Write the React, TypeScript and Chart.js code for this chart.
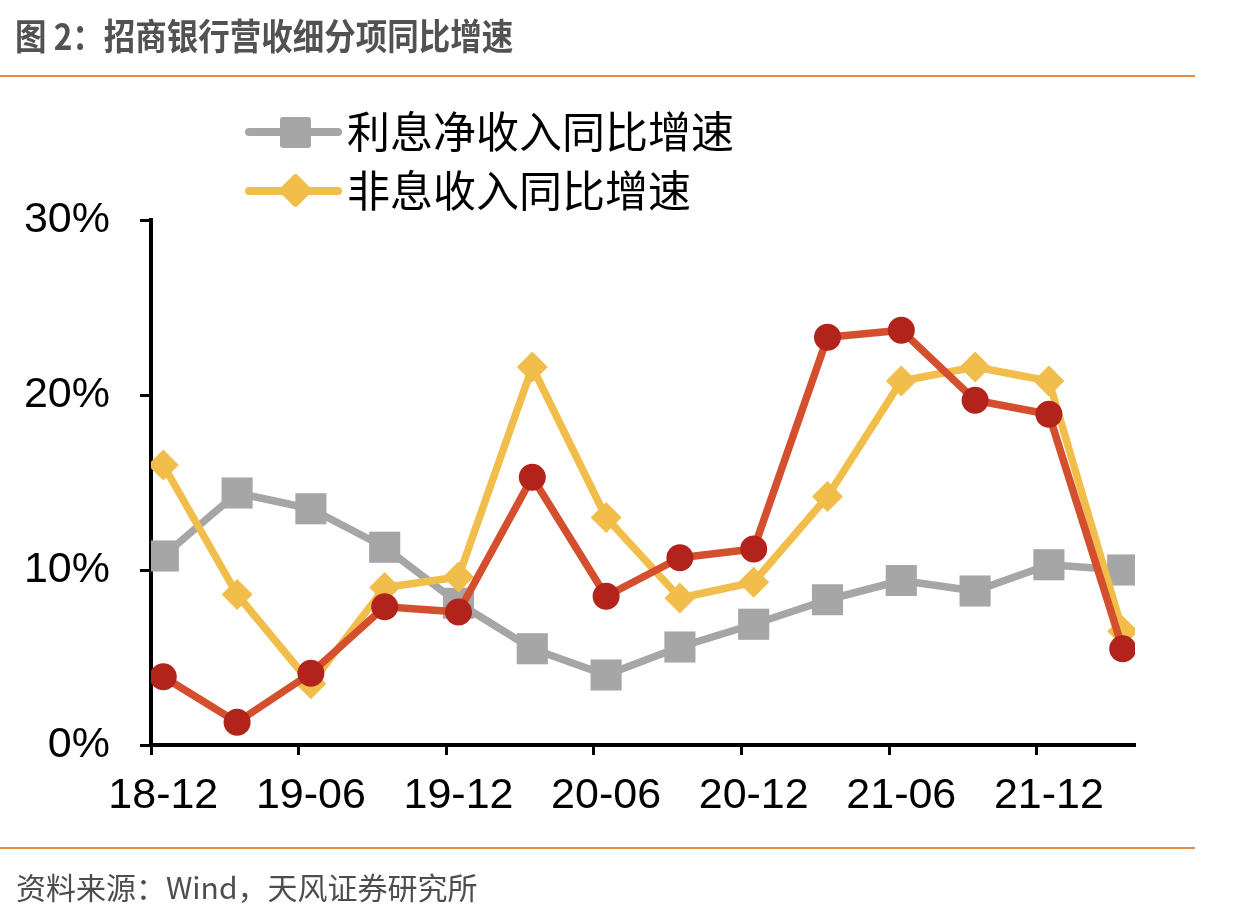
import React, { useEffect, useRef } from "react";
import { Chart, registerables } from "chart.js";

Chart.register(...registerables);

// ---- data ----
const PERIODS = [
  "18-12", "19-03", "19-06", "19-09", "19-12", "20-03", "20-06",
  "20-09", "20-12", "21-03", "21-06", "21-09", "21-12", "22-03",
];
const NII_GROWTH = [10.8, 14.4, 13.5, 11.3, 8.1, 5.5, 4.0, 5.6, 6.9, 8.3, 9.4, 8.8, 10.3, 10.0];
const NON_II_GROWTH = [16.0, 8.6, 3.5, 9.0, 9.6, 21.6, 13.0, 8.4, 9.3, 14.2, 20.8, 21.6, 20.8, 6.5];
const REVENUE_GROWTH = [3.9, 1.3, 4.1, 7.9, 7.6, 15.3, 8.5, 10.7, 11.2, 23.3, 23.7, 19.7, 18.9, 5.5];

const X_TICK_LABELS = ["18-12", "19-06", "19-12", "20-06", "20-12", "21-06", "21-12"];
const Y_MIN = 0;
const Y_MAX = 30;
const Y_STEP = 10;

const NAME_NII = "利息净收入同比增速";
const NAME_NON_II = "非息收入同比增速";
const NAME_REVENUE = "营业收入同比增速";

const TITLE = "图 2：招商银行营收细分项同比增速";
const SOURCE = "资料来源：Wind，天风证券研究所";

// ---- styles ----
const GRAY = "#A6A6A6";
const GOLD = "#F1BE4C";
const RED_LINE = "#D44F2E";
const RED_POINT = "#B2231B";
const ORANGE_RULE = "#E48B45";
const CJK = '"Noto Sans CJK SC", "Noto Sans", sans-serif';
const LATIN = '"Liberation Sans", Arial, sans-serif';

function monthIndex(p: string): number {
  const [yy, mm] = p.split("-").map(Number);
  return (yy - 18) * 12 + (mm - 12);
}

const toPoints = (vals: number[]) => PERIODS.map((p, i) => ({ x: monthIndex(p), y: vals[i] }));

export default function App() {
  const ref = useRef<HTMLCanvasElement | null>(null);

  useEffect(() => {
    if (!ref.current) return;
    const xMin = monthIndex(PERIODS[0]) - 0.5;
    const xMax = monthIndex(PERIODS[PERIODS.length - 1]) + 0.5;
    const tickVals = X_TICK_LABELS.map((l) => monthIndex(l) - 0.5);

    const chart = new Chart(ref.current, {
      type: "line",
      data: {
        datasets: [
          {
            label: NAME_REVENUE,
            data: toPoints(REVENUE_GROWTH),
            borderColor: RED_LINE,
            backgroundColor: RED_POINT,
            borderWidth: 7.5,
            borderJoinStyle: "round",
            pointStyle: "circle",
            pointRadius: 13.5,
            pointBackgroundColor: RED_POINT,
            pointBorderWidth: 0,
            tension: 0,
            order: 1,
          },
          {
            label: NAME_NON_II,
            data: toPoints(NON_II_GROWTH),
            borderColor: GOLD,
            backgroundColor: GOLD,
            borderWidth: 7.5,
            borderJoinStyle: "round",
            pointStyle: "rectRot",
            pointRadius: 15.5,
            pointBackgroundColor: GOLD,
            pointBorderWidth: 0,
            tension: 0,
            order: 2,
          },
          {
            label: NAME_NII,
            data: toPoints(NII_GROWTH),
            borderColor: GRAY,
            backgroundColor: GRAY,
            borderWidth: 7.5,
            borderJoinStyle: "round",
            pointStyle: "rect",
            pointRadius: 22,
            pointBackgroundColor: GRAY,
            pointBorderWidth: 0,
            tension: 0,
            order: 3,
          },
        ],
      },
      options: {
        responsive: false,
        devicePixelRatio: 1,
        animation: false,
        events: [],
        layout: { padding: { left: 0, top: 220, right: 99, bottom: 95 } },
        plugins: { legend: { display: false }, tooltip: { enabled: false } },
        scales: {
          x: {
            type: "linear",
            min: xMin,
            max: xMax,
            afterBuildTicks: (axis: any) => {
              axis.ticks = tickVals.map((v) => ({ value: v }));
            },
            afterFit: (scale: any) => {
              scale.height = 80;
            },
            grid: {
              drawOnChartArea: false,
              drawTicks: true,
              tickLength: 10,
              tickWidth: 3,
              tickColor: "#000",
            },
            border: { display: true, color: "#000", width: 4 },
            ticks: {
              autoSkip: false,
              maxRotation: 0,
              padding: 15,
              labelOffset: 12.3,
              color: "#000",
              font: { family: LATIN, size: 43 },
              callback: (v: any) => {
                const idx = tickVals.indexOf(Number(v));
                return idx >= 0 ? X_TICK_LABELS[idx] : "";
              },
            },
          },
          y: {
            type: "linear",
            min: Y_MIN,
            max: Y_MAX,
            afterFit: (scale: any) => {
              scale.width = 151;
            },
            grid: {
              drawOnChartArea: false,
              drawTicks: true,
              tickLength: 11,
              tickWidth: 3,
              tickColor: "#000",
            },
            border: { display: true, color: "#000", width: 4 },
            ticks: {
              stepSize: Y_STEP,
              padding: 30,
              color: "#000",
              font: { family: LATIN, size: 43 },
              callback: (v: any) => `${v}%`,
            },
          },
        },
      },
    });
    return () => chart.destroy();
  }, []);

  const legendItems = [
    { name: NAME_NII, color: GRAY, marker: "square" },
    { name: NAME_NON_II, color: GOLD, marker: "diamond" },
  ];

  return (
    <div
      style={{
        position: "absolute",
        left: 0,
        top: 0,
        width: 1234,
        height: 920,
        background: "#fff",
        overflow: "hidden",
      }}
    >
      <canvas
        ref={ref}
        width={1234}
        height={920}
        style={{ position: "absolute", left: 0, top: 0, width: 1234, height: 920 }}
      />
      <div
        style={{
          position: "absolute",
          left: 15,
          top: 16,
          fontFamily: CJK,
          fontWeight: 700,
          fontSize: 36,
          lineHeight: "36px",
          color: "#525252",
          whiteSpace: "nowrap",
          transform: "scaleX(0.875)",
          transformOrigin: "left top",
        }}
      >
        {TITLE}
      </div>
      <div style={{ position: "absolute", left: 0, top: 75, width: 1195, height: 2, background: ORANGE_RULE }} />
      {legendItems.map((it, i) => {
        const cy = 132 + i * 58.5;
        return (
          <React.Fragment key={it.name}>
            <div
              style={{
                position: "absolute",
                left: 245,
                top: cy - 4,
                width: 97,
                height: 8,
                borderRadius: 4,
                background: it.color,
              }}
            />
            {it.marker === "square" ? (
              <div
                style={{
                  position: "absolute",
                  left: 295 - 15.5,
                  top: cy - 15.5,
                  width: 31,
                  height: 31,
                  borderRadius: 3,
                  background: it.color,
                }}
              />
            ) : (
              <div
                style={{
                  position: "absolute",
                  left: 295 - 12.5,
                  top: cy - 12.5,
                  width: 25,
                  height: 25,
                  borderRadius: 3,
                  background: it.color,
                  transform: "rotate(45deg)",
                }}
              />
            )}
            <div
              style={{
                position: "absolute",
                left: 347,
                top: cy - 24,
                fontFamily: CJK,
                fontSize: 43,
                lineHeight: "43px",
                color: "#000",
                whiteSpace: "nowrap",
              }}
            >
              {it.name}
            </div>
          </React.Fragment>
        );
      })}
      <div style={{ position: "absolute", left: 0, top: 847, width: 1195, height: 2, background: ORANGE_RULE }} />
      <div
        style={{
          position: "absolute",
          left: 16,
          top: 871,
          fontFamily: CJK,
          fontSize: 30,
          lineHeight: "30px",
          color: "#4d4d4d",
          whiteSpace: "nowrap",
        }}
      >
        {SOURCE}
      </div>
    </div>
  );
}
